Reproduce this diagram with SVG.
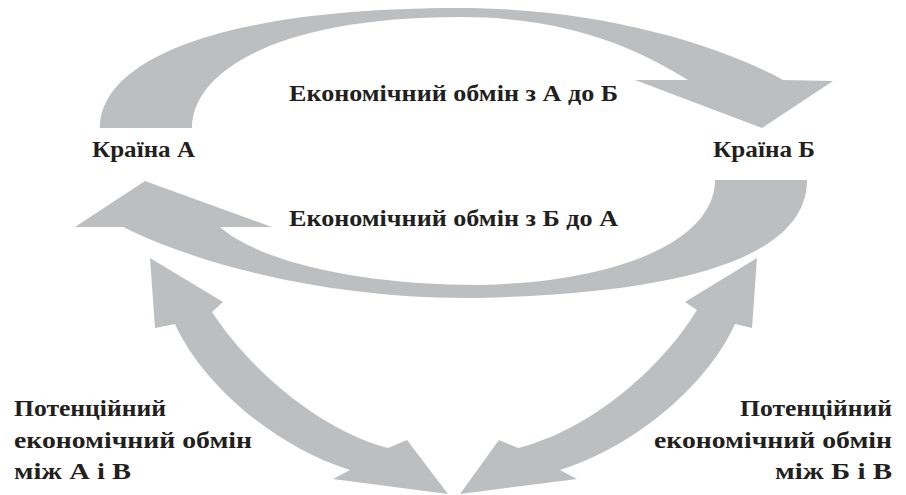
<svg xmlns="http://www.w3.org/2000/svg" width="906" height="495" viewBox="0 0 906 495">
<style>
.arr{fill:#bdbec0;stroke:none}
.t{font-family:"Liberation Serif","DejaVu Serif",serif;font-weight:bold;font-size:23px;fill:#231f20}
</style>
<rect width="906" height="495" fill="#ffffff"/>
<g id="connectors">
<path id="a-to-b" class="arr" d="M100,128 C100,60 220,8 460,8 C600,8 720,45 783,80 L833,81 L762,128 L635,80 L688,80 C640,50 570,17 460,17 C280,17 192,70 192,128 Z"/>
<path id="b-to-a" class="arr" d="M807,180 C807,245 720,292 480,298 C330,300 200,265 123,227 L75,227 L145,181 L272,227 L220,227 C260,262 360,285 480,285 C620,282 715,240 715,180 Z"/>
<path id="a-v" class="arr" d="M150,258 L223,302 L212,312 C250,370 320,430 388,448 L407,440 L448,494 L333,479 L350,470 C270,445 200,380 175,324 L155,328 Z"/>
<path id="b-v" class="arr" d="M757,258 L752,328 L735,324 C710,380 640,445 560,470 L577,479 L460,494 L499,440 L518,448 C590,430 660,370 697,310 L685,302 Z"/>
</g>
<g id="country-a"><text class="t" x="92" y="157" textLength="103" lengthAdjust="spacingAndGlyphs">Країна А</text></g>
<g id="country-b"><text class="t" x="713" y="157" textLength="102" lengthAdjust="spacingAndGlyphs">Країна Б</text></g>
<g id="label-ab"><text class="t" x="289" y="101" textLength="329" lengthAdjust="spacingAndGlyphs">Економічний обмін з А до Б</text></g>
<g id="label-ba"><text class="t" x="289" y="226" textLength="329" lengthAdjust="spacingAndGlyphs">Економічний обмін з Б до А</text></g>
<g id="label-av">
<text class="t" x="14" y="416" textLength="152" lengthAdjust="spacingAndGlyphs">Потенційний</text>
<text class="t" x="14" y="448" textLength="238" lengthAdjust="spacingAndGlyphs">економічний обмін</text>
<text class="t" x="14" y="479" textLength="117" lengthAdjust="spacingAndGlyphs">між А і В</text>
</g>
<g id="label-bv">
<text class="t" x="740" y="416" textLength="152" lengthAdjust="spacingAndGlyphs">Потенційний</text>
<text class="t" x="654" y="448" textLength="238" lengthAdjust="spacingAndGlyphs">економічний обмін</text>
<text class="t" x="775" y="479" textLength="117" lengthAdjust="spacingAndGlyphs">між Б і В</text>
</g>
</svg>
